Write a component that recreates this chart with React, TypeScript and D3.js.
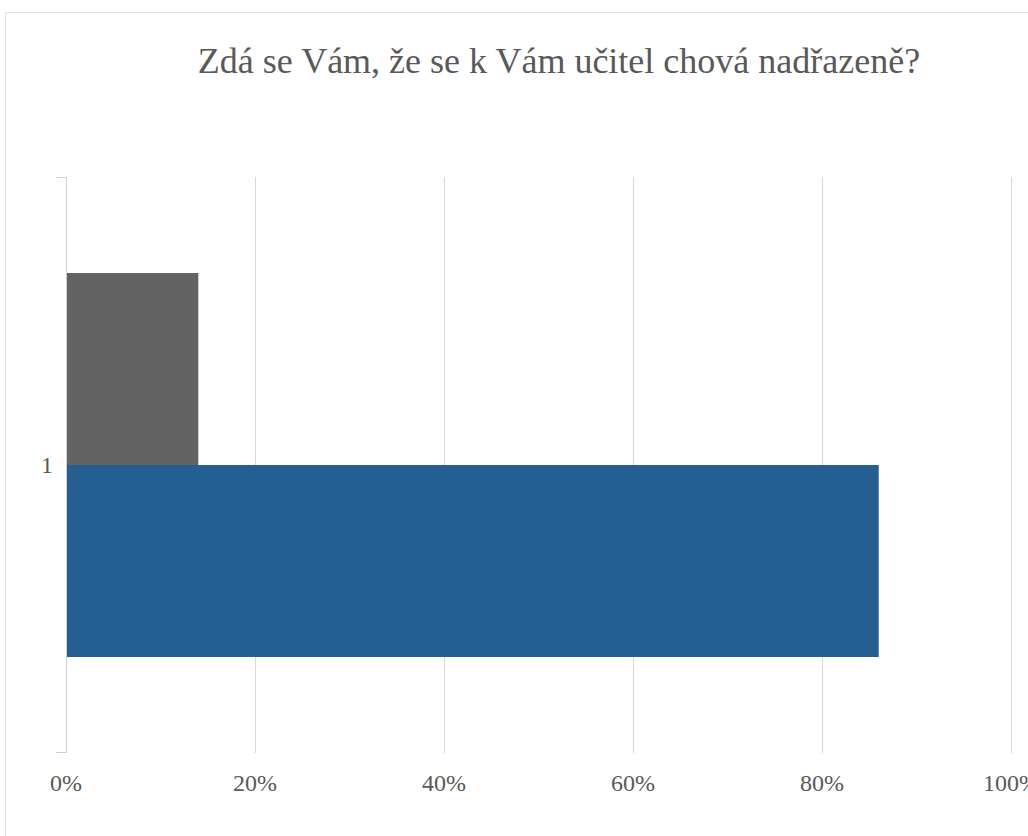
import React from "react";
import * as d3 from "d3";

const title = "Zdá se Vám, že se k Vám učitel chová nadřazeně?";
const categories = ["1"];
const seriesNames = ["ano", "ne"];
const seriesAno = [0.14];
const seriesNe = [0.86];
const seriesColors = ["#636363", "#255E91"];
const xTicks = [0, 0.2, 0.4, 0.6, 0.8, 1.0];

const FONT = "Times New Roman, Liberation Serif, DejaVu Serif, serif";

export default function App() {
  const W = 1028;
  const H = 836;
  const x = d3.scaleLinear().domain([0, 1]).range([66, 1011]);
  const y = d3
    .scaleBand<string>()
    .domain(categories)
    .range([177, 753])
    .paddingInner(0)
    .paddingOuter(0.25);
  const sub = d3
    .scaleBand<string>()
    .domain(seriesNames)
    .range([0, y.bandwidth()]);
  const values: Record<string, number[]> = { ano: seriesAno, ne: seriesNe };
  const fmt = d3.format(".0%");
  const textColor = "#595959";
  const gridColor = "#d9d9d9";
  const [y0, y1] = y.range();

  return (
    <div style={{ position: "absolute", left: 0, top: 0 }}>
      <svg width={W} height={H} style={{ display: "block", fontFamily: FONT }}>
        <rect x={0} y={0} width={W} height={H} fill="#ffffff" />
        <rect
          x={5.5}
          y={12.5}
          width={W + 10}
          height={H + 10}
          fill="none"
          stroke="#e3e3e3"
          strokeWidth={1}
        />
        <text
          x={559}
          y={73}
          textAnchor="middle"
          style={{ fontFamily: FONT }}
          fontSize={36}
          fill={textColor}
        >
          {title}
        </text>
        {xTicks
          .filter((t) => t > 0)
          .map((t) => (
            <line
              key={"g" + t}
              x1={Math.round(x(t)) + 0.5}
              x2={Math.round(x(t)) + 0.5}
              y1={y0}
              y2={y1}
              stroke={gridColor}
              strokeWidth={1}
            />
          ))}
        {categories.map((c, i) =>
          seriesNames.map((s, j) => (
            <rect
              key={c + s}
              x={x(0)}
              y={(y(c) as number) + (sub(s) as number)}
              width={x(values[s][i]) - x(0)}
              height={sub.bandwidth()}
              fill={seriesColors[j]}
            />
          ))
        )}
        <line
          x1={66.5}
          x2={66.5}
          y1={y0}
          y2={y1}
          stroke="#d0d0d0"
          strokeWidth={1}
        />
        <line x1={56} x2={67} y1={y0 + 0.5} y2={y0 + 0.5} stroke="#d0d0d0" />
        <line x1={56} x2={67} y1={y1 - 0.5} y2={y1 - 0.5} stroke="#d0d0d0" />
        {categories.map((c) => (
          <text
            key={"c" + c}
            x={53}
            y={(y(c) as number) + y.bandwidth() / 2 + 8}
            textAnchor="end"
            style={{ fontFamily: FONT }}
            fontSize={24}
            fill={textColor}
          >
            {c}
          </text>
        ))}
        {xTicks.map((t) => (
          <text
            key={"t" + t}
            x={x(t)}
            y={791}
            textAnchor="middle"
            style={{ fontFamily: FONT }}
            fontSize={24}
            fill={textColor}
          >
            {fmt(t)}
          </text>
        ))}
      </svg>
    </div>
  );
}
